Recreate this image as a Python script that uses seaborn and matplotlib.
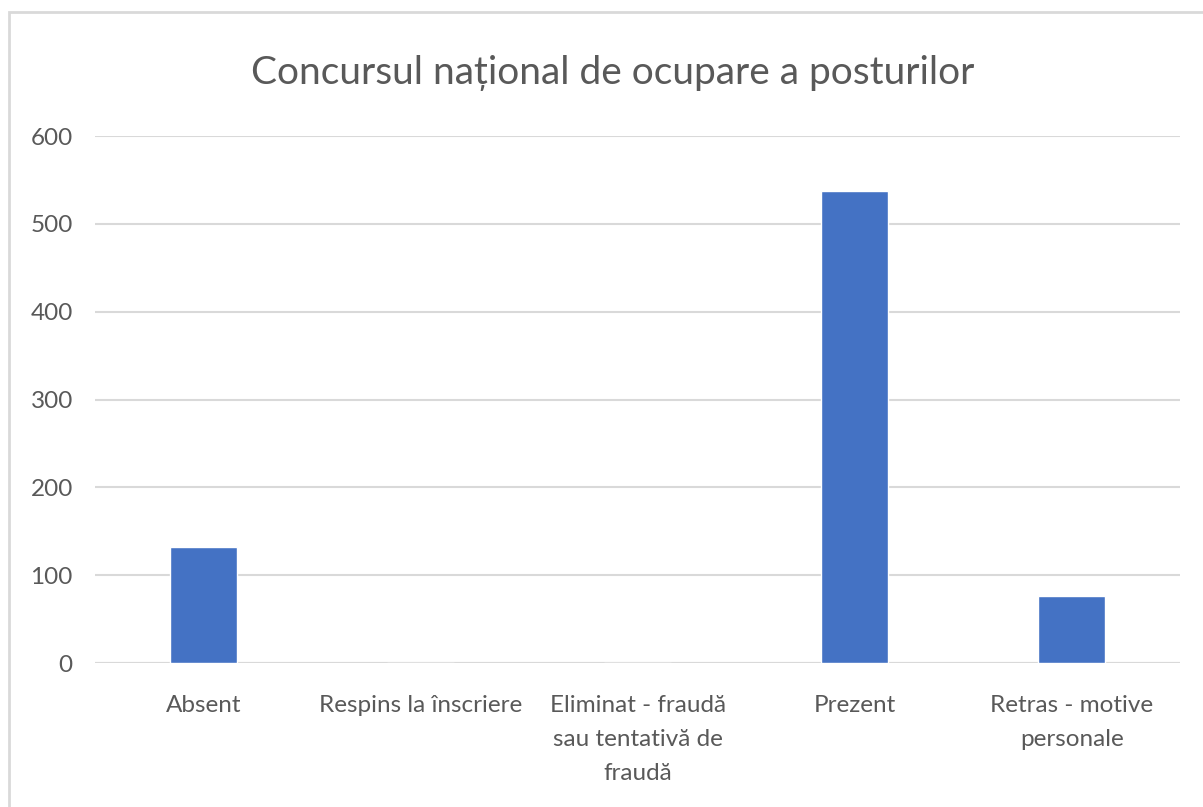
import matplotlib
matplotlib.use("Agg")
import matplotlib.pyplot as plt
import seaborn as sns
import pandas as pd

# date din grafic
categorii = ["Absent", "Respins la înscriere", "Eliminat - fraudă\nsau tentativă de\nfraudă",
             "Prezent", "Retras - motive\npersonale"]
valori = [132, 0, 0, 537, 76]
y_ticks = [0, 100, 200, 300, 400, 500, 600]

df = pd.DataFrame({"categorie": categorii, "valoare": valori})

sns.set_theme(style="white")
plt.rcParams["font.family"] = ["Lato", "DejaVu Sans"]

fig = plt.figure(figsize=(12.03, 8.07), dpi=100)
ax = fig.add_axes([0.079, 0.1784, 0.902, 0.653])

sns.barplot(data=df, x="categorie", y="valoare", color="#4472C4", width=0.31,
            saturation=1, ax=ax, zorder=3)

ax.set_ylim(0, 600)
ax.set_yticks(y_ticks)
ax.yaxis.grid(True, color="#d9d9d9", linewidth=1.5, zorder=0)
ax.set_axisbelow(True)
for s in ax.spines.values():
    s.set_visible(False)
ax.axhline(0, color="#d9d9d9", linewidth=1.5, zorder=1)
ax.tick_params(axis="both", length=0, labelsize=17.5, colors="#595959")
ax.tick_params(axis="x", pad=23)
ax.tick_params(axis="y", pad=16)
for t in ax.get_xticklabels():
    t.set_linespacing(1.78)
ax.set_xlabel("")
ax.set_ylabel("")

fig.text(0.509, 0.91, "Concursul național de ocupare a posturilor", ha="center", va="center",
         fontsize=28, color="#595959")

# chenarul graficului
fig.patches.append(plt.Rectangle((9 / 1203, -0.1), 1.2, 1 - 12 / 807 + 0.1,
                                 transform=fig.transFigure, fill=False,
                                 edgecolor="#d9d9d9", linewidth=2))

fig.savefig("out.png", dpi=100)
